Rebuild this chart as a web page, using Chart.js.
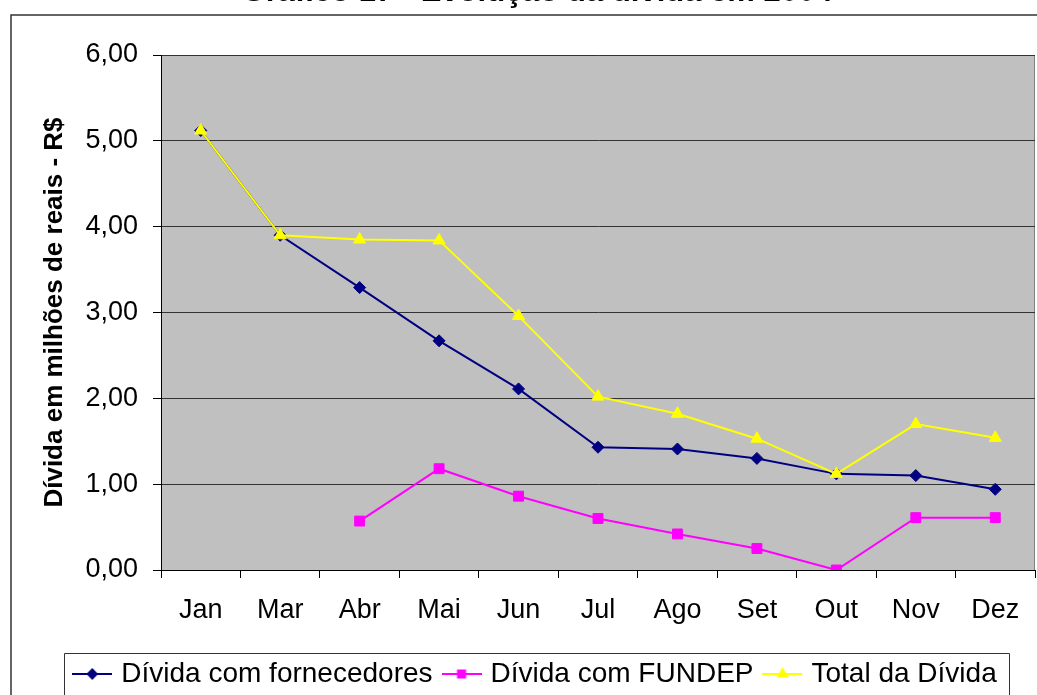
<!DOCTYPE html>
<html lang="pt-BR">
<head>
<meta charset="utf-8">
<title>Evolução da dívida em 2004</title>
<script src="https://cdn.jsdelivr.net/npm/chart.js@4.4.1/dist/chart.umd.min.js"></script>
<style>
  html, body { margin: 0; padding: 0; background: #fff; overflow: hidden; }
  #wrap { position: relative; width: 1037px; height: 695px; overflow: hidden; }
  #divida { position: absolute; left: 0; top: -30px; }
</style>
</head>
<body>
<div id="wrap">
  <canvas id="divida" width="1037" height="736"></canvas>
</div>
<script>
// Meses com lançamento (não há Fevereiro)
const meses = ['Jan', 'Mar', 'Abr', 'Mai', 'Jun', 'Jul', 'Ago', 'Set', 'Out', 'Nov', 'Dez'];

// Valores em milhões de reais
const dividaFornecedores = [5.12, 3.90, 3.29, 2.67, 2.11, 1.43, 1.41, 1.30, 1.12, 1.10, 0.94];
const dividaFundep = [null, null, 0.57, 1.18, 0.86, 0.60, 0.42, 0.25, 0.00, 0.61, 0.61];
const totalDivida = [5.12, 3.90, 3.85, 3.84, 2.96, 2.02, 1.82, 1.53, 1.12, 1.70, 1.54];

const FONT = "Arial, 'Liberation Sans', sans-serif";

// Formato brasileiro: 6,00
function fmt(v) {
    return v.toFixed(2).replace('.', ',');
}

// Marcador da legenda: traço com o símbolo da série no meio
function legendMarker(color, style, radius) {
    const c = document.createElement('canvas');
    c.width = 40;
    c.height = 16;
    const g = c.getContext('2d');
    g.strokeStyle = color;
    g.fillStyle = color;
    g.lineWidth = 2;
    g.beginPath();
    g.moveTo(0, 8);
    g.lineTo(40, 8);
    g.stroke();
    Chart.helpers.drawPoint(g, { pointStyle: style, radius: radius, borderWidth: 1, rotation: 0 }, 20, 8);
    return c;
}

// Fundo cinza da área de plotagem, moldura externa e caixa da legenda
const molduras = {
    id: 'molduras',
    beforeDraw(chart) {
        const { ctx, chartArea: a } = chart;
        ctx.save();
        ctx.fillStyle = '#ffffff';
        ctx.fillRect(0, 0, chart.width, chart.height);
        ctx.strokeStyle = '#333333';
        ctx.lineWidth = 1.5;
        ctx.beginPath();
        ctx.moveTo(11, chart.height);
        ctx.lineTo(11, 45);
        ctx.lineTo(chart.width, 45);
        ctx.stroke();
        ctx.fillStyle = '#c0c0c0';
        ctx.fillRect(a.left, a.top, a.right - a.left, a.bottom - a.top);
        ctx.strokeStyle = '#808080';
        ctx.lineWidth = 1;
        ctx.strokeRect(a.left + 0.5, a.top + 0.5, a.right - a.left - 1, a.bottom - a.top);
        ctx.restore();
    },
    afterDraw(chart) {
        const boxes = chart.legend.legendHitBoxes;
        if (!boxes || !boxes.length) return;
        const first = boxes[0];
        const last = boxes[boxes.length - 1];
        const left = Math.round(first.left - 13.5) + 0.5;
        const right = Math.round(last.left + last.width + 12) + 0.5;
        const top = Math.round(first.top - 7.5) + 0.5;
        const ctx = chart.ctx;
        ctx.save();
        ctx.strokeStyle = '#333333';
        ctx.lineWidth = 1;
        ctx.beginPath();
        ctx.moveTo(left, chart.height);
        ctx.lineTo(left, top);
        ctx.lineTo(right, top);
        ctx.lineTo(right, chart.height);
        ctx.stroke();
        ctx.restore();
    }
};

const ctx = document.getElementById('divida').getContext('2d');

const chart = new Chart(ctx, {
    type: 'line',
    data: {
        labels: meses,
        datasets: [
            {
                label: 'Dívida com fornecedores',
                data: dividaFornecedores,
                borderColor: '#000080',
                backgroundColor: '#000080',
                borderWidth: 2,
                pointStyle: 'rectRot',
                pointRadius: 6,
                pointBorderWidth: 1,
                order: 2,
                marker: legendMarker('#000080', 'rectRot', 4.5)
            },
            {
                label: 'Dívida com FUNDEP',
                data: dividaFundep,
                borderColor: '#ff00ff',
                backgroundColor: '#ff00ff',
                borderWidth: 2,
                pointStyle: 'rect',
                pointRadius: 7,
                pointBorderWidth: 1,
                order: 1,
                marker: legendMarker('#ff00ff', 'rect', 5)
            },
            {
                label: 'Total da Dívida',
                data: totalDivida,
                borderColor: '#ffff00',
                backgroundColor: '#ffff00',
                borderWidth: 2,
                pointStyle: 'triangle',
                pointRadius: 7,
                pointBorderWidth: 1,
                order: 0,
                marker: legendMarker('#ffff00', 'triangle', 5)
            }
        ]
    },
    options: {
        responsive: false,
        animation: false,
        layout: {
            autoPadding: false,
            padding: { left: 39, right: 2, top: 0, bottom: 8 }
        },
        elements: {
            line: { tension: 0 }
        },
        plugins: {
            title: {
                display: true,
                text: 'Gráfico 17 - Evolução da dívida em 2004',
                color: '#000',
                font: { family: FONT, size: 31, weight: 'bold' },
                padding: { top: 4, bottom: 43.8 }
            },
            legend: {
                position: 'bottom',
                labels: {
                    color: '#000',
                    font: { family: FONT, size: 28 },
                    usePointStyle: true,
                    pointStyleWidth: 30,
                    padding: 14,
                    sort: (a, b) => a.datasetIndex - b.datasetIndex,
                    generateLabels: function(chart) {
                        const items = Chart.defaults.plugins.legend.labels.generateLabels(chart);
                        items.forEach(item => {
                            item.pointStyle = chart.data.datasets[item.datasetIndex].marker;
                        });
                        return items;
                    }
                }
            },
            tooltip: { enabled: false }
        },
        scales: {
            x: {
                offset: true,
                grid: {
                    offset: true,
                    drawOnChartArea: false,
                    tickLength: 8,
                    tickColor: '#000'
                },
                border: { color: '#000', width: 1 },
                ticks: {
                    color: '#000',
                    padding: 16,
                    maxRotation: 0,
                    autoSkip: false,
                    font: { family: FONT, size: 27 }
                },
                afterFit: function(scale) {
                    scale.height = 76;
                    // rótulos ficam dentro das categorias, sem folga lateral
                    scale.paddingLeft = 0;
                    scale.paddingRight = 0;
                }
            },
            y: {
                min: 0,
                max: 6,
                grid: {
                    color: '#333333',
                    tickLength: 8,
                    tickColor: '#000'
                },
                border: { color: '#000', width: 1 },
                ticks: {
                    stepSize: 1,
                    color: '#000',
                    padding: 15,
                    font: { family: FONT, size: 27 },
                    callback: function(value) {
                        return fmt(value);
                    }
                },
                title: {
                    display: true,
                    text: 'Dívida em milhões de reais - R$',
                    color: '#000',
                    font: { family: FONT, size: 26, weight: 'bold' },
                    padding: { top: 0.4, bottom: 0 }
                },
                afterFit: function(scale) {
                    scale.width = 122;
                }
            }
        }
    },
    plugins: [molduras]
});
</script>
</body>
</html>
